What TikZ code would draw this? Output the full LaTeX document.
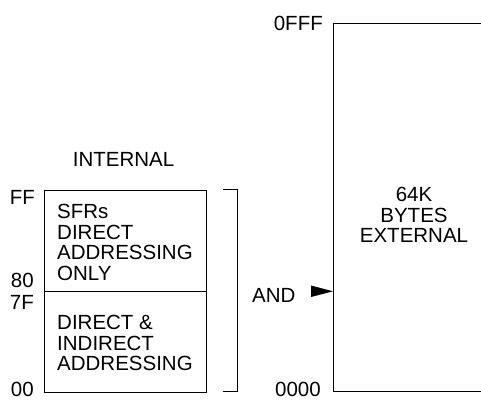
\documentclass[tikz,border=0pt]{standalone}
\usepackage{fontspec}
\setmainfont{Liberation Sans}
\begin{document}
\begin{tikzpicture}[x=1pt,y=-1pt,
  lbl/.style={inner sep=0pt,font=\fontsize{20.5}{20.6}\selectfont},
  blk/.style={lbl,align=left,anchor=north west},
  mem/.style={draw,line width=0.9pt},
  ln/.style={line width=0.9pt}]
\useasboundingbox (0,0) rectangle (481,400);
% internal memory
\node[mem,minimum width=162pt,minimum height=101pt,anchor=north west,inner sep=0pt] (upper) at (44,190) {};
\node[mem,minimum width=162pt,minimum height=101pt,anchor=north west,inner sep=0pt] (lower) at (44,291) {};
\node[blk] (utext) at (57,204) {SFRs\\DIRECT\\ADDRESSING\\ONLY};
\node[blk] (ltext) at (57,315) {DIRECT \&\\INDIRECT\\ADDRESSING};
\node[lbl,anchor=base] (internal) at (123.5,166.7) {INTERNAL};
\node[lbl,anchor=base east] (ff) at (35,204) {FF};
\node[lbl,anchor=base east] (e80) at (34,287) {80};
\node[lbl,anchor=base east] (e7f) at (34,309) {7F};
\node[lbl,anchor=base east] (e00) at (34,396.5) {00};
% bracket
\coordinate (bt) at (223,189.5);
\coordinate (bb) at (223,391.5);
\draw[ln] (bt) -| (237,391.5) -- (bb);
% external memory
\coordinate (xtl) at (333,23);
\coordinate (xbl) at (333,391.5);
\coordinate (xtr) at (482,23);
\coordinate (xbr) at (482,391.5);
\draw[ln] (xtr) -- (xtl) -- (xbl) -- (xbr);
\node[lbl,align=center,anchor=north] (ext) at (414,187) {64K\\BYTES\\EXTERNAL};
\node[lbl,anchor=base east] (offf) at (323,30) {0FFF};
\node[lbl,anchor=base east] (o000) at (321,396.5) {0000};
\node[lbl,anchor=base west] (and) at (252,302) {AND};
\coordinate (tip) at (333,291.3);
\fill (tip) -- (311,285.5) -- (311,297) -- cycle;
\end{tikzpicture}
\end{document}
